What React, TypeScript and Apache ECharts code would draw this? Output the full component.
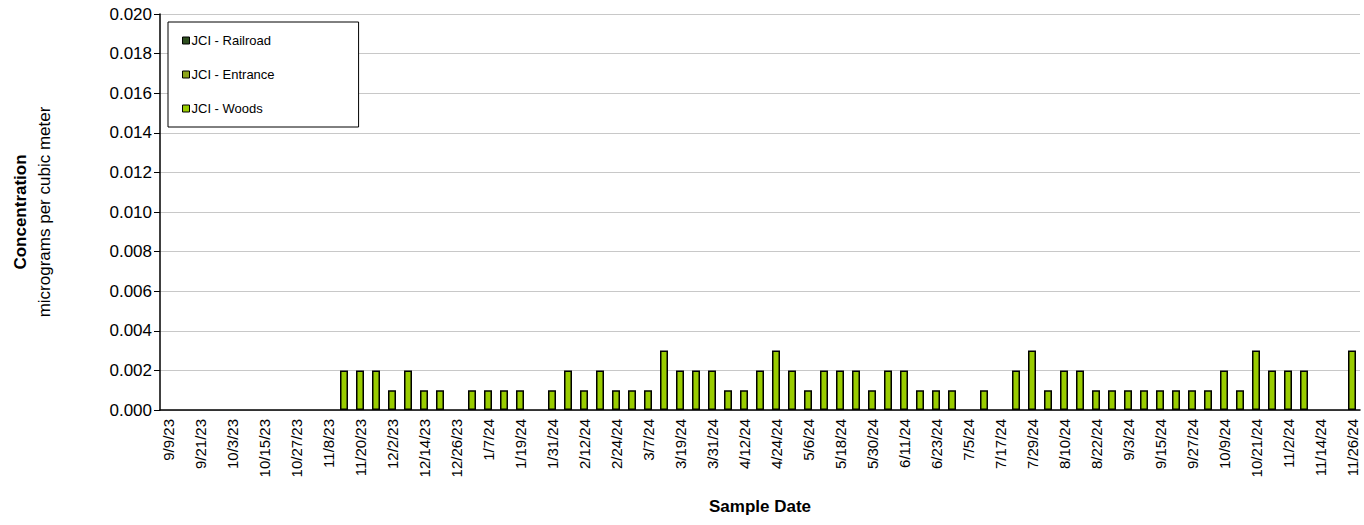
import React, { useEffect, useRef } from "react";
import * as echarts from "echarts";

const startDate = new Date(2023, 8, 9);
const categories: string[] = [];
for (let i = 0; i < 75; i++) {
  const d = new Date(startDate.getTime());
  d.setDate(d.getDate() + i * 6);
  categories.push(`${d.getMonth() + 1}/${d.getDate()}/${String(d.getFullYear()).slice(2)}`);
}

const railroad: (number | null)[] = [];
const entrance: (number | null)[] = [];
const woods: (number | null)[] = [
  null, null, null, null, null, null, null, null, null, null, null,
  0.002, 0.002, 0.002, 0.001, 0.002, 0.001, 0.001, null,
  0.001, 0.001, 0.001, 0.001, null,
  0.001, 0.002, 0.001, 0.002, 0.001, 0.001, 0.001, 0.003, 0.002, 0.002, 0.002, 0.001, 0.001,
  0.002, 0.003, 0.002, 0.001, 0.002, 0.002, 0.002, 0.001, 0.002, 0.002, 0.001, 0.001, 0.001,
  null, 0.001, null,
  0.002, 0.003, 0.001, 0.002, 0.002,
  0.001, 0.001, 0.001, 0.001, 0.001, 0.001, 0.001, 0.001,
  0.002, 0.001, 0.003, 0.002, 0.002, 0.002,
  null, null, 0.003,
];

const FONT = "Liberation Sans, Arial, sans-serif";

export default function App() {
  const ref = useRef<HTMLDivElement>(null);
  useEffect(() => {
    document.body.style.margin = "0";
    const chart = echarts.init(ref.current!, null, { renderer: "svg" });
    const mk = (name: string, data: (number | null)[], color: string) => ({
      name, type: "bar", data, barGap: "-100%", barWidth: "50%",
      itemStyle: { color, borderColor: "#000", borderWidth: 1.5 },
    });
    chart.setOption({
      animation: false,
      textStyle: { fontFamily: FONT },
      grid: { left: 160, right: 4, top: 14, bottom: 115, containLabel: false, outerBoundsMode: "none" },
      legend: {
        orient: "vertical", left: 168, top: 22, padding: [12, 84, 12, 14],
        itemGap: 21, itemWidth: 7, itemHeight: 7, icon: "rect",
        borderColor: "#000", borderWidth: 1, backgroundColor: "#fff",
        textStyle: { fontFamily: FONT, fontSize: 13, color: "#000", padding: [0, 0, 0, -3] },
        itemStyle: { borderColor: "#000", borderWidth: 1 },
      },
      xAxis: {
        type: "category", data: categories,
        name: "Sample Date", nameLocation: "middle", nameGap: 88,
        nameTextStyle: { fontFamily: FONT, fontSize: 17, fontWeight: "bold", color: "#000" },
        axisLine: { lineStyle: { color: "#000", width: 1.5 } },
        axisTick: { interval: 0, length: 6, lineStyle: { color: "#000" } },
        axisLabel: { interval: 1, rotate: 90, fontSize: 15, color: "#000", fontFamily: FONT, margin: 9 },
      },
      yAxis: {
        type: "value", min: 0, max: 0.02, interval: 0.002,
        name: "{b|Concentration}\nmicrograms per cubic meter", nameLocation: "middle", nameGap: 104,
        nameTextStyle: { fontFamily: FONT, fontSize: 17, color: "#000", lineHeight: 24,
          rich: { b: { fontFamily: FONT, fontSize: 17, fontWeight: "bold", color: "#000" } } },
        axisLine: { show: true, lineStyle: { color: "#000", width: 1.5 } },
        axisTick: { show: true, length: 6, lineStyle: { color: "#000" } },
        axisLabel: { fontSize: 17, color: "#000", fontFamily: FONT, formatter: (v: number) => v.toFixed(3) },
        splitLine: { lineStyle: { color: "#c8c8c8" } },
      },
      series: [
        mk("JCI - Railroad", railroad, "#2f4f1f"),
        mk("JCI - Entrance", entrance, "#8ea61c"),
        mk("JCI - Woods", woods, "#99cc00"),
      ],
    });
    return () => chart.dispose();
  }, []);
  return <div ref={ref} style={{ width: 1364, height: 525 }} />;
}
